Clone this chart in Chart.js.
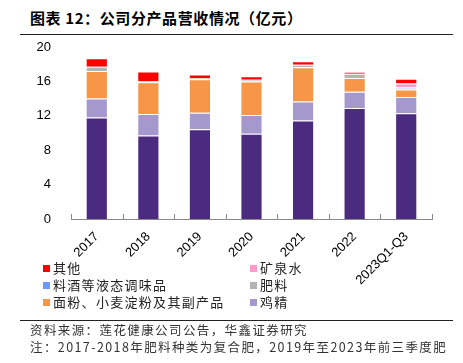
<!DOCTYPE html>
<html>
<head>
<meta charset="utf-8">
<script src="https://cdn.jsdelivr.net/npm/chart.js@4.4.0/dist/chart.umd.min.js"></script>
<style>
  body { margin: 0; background: #fff; }
  #wrap { position: relative; width: 463px; height: 363px; overflow: hidden; font-family: "Noto Sans CJK SC", sans-serif; }
  #chart { position: absolute; left: 0; top: 0; }
  .title { position: absolute; left: 30px; top: 7px; font-size: 15px; font-weight: bold; color: #000; letter-spacing: 0.6px; white-space: nowrap; }
  .rule { position: absolute; left: 20px; width: 433px; height: 1px; background: #222; }
  .note { position: absolute; left: 30px; font-size: 12.5px; color: #333; letter-spacing: 1.4px; white-space: nowrap; }
  .legend-item { position: absolute; font-size: 13px; color: #222; letter-spacing: 1.3px; white-space: nowrap; line-height: 16px; }
  .legend-item i { position: absolute; left: -10px; top: 5px; width: 7px; height: 7px; }
</style>
</head>
<body>
<div id="wrap">
  <div class="title">图表 12：公司分产品营收情况（亿元）</div>
  <div class="rule" style="top:34px"></div>
  <canvas id="chart" width="463" height="363"></canvas>
  <div id="legend"></div>
  <div class="rule" style="top:320px"></div>
  <div class="note" style="top:320px">资料来源：莲花健康公司公告，华鑫证券研究</div>
  <div class="note" style="top:337px">注：2017-2018年肥料种类为复合肥，2019年至2023年前三季度肥</div>
</div>
<script>
// Data (亿元)
const categories = ['2017', '2018', '2019', '2020', '2021', '2022', '2023Q1-Q3'];
const weijing   = [11.8, 9.7, 10.45, 9.9, 11.45, 12.9, 12.3];   // 味精
const jijing    = [2.2, 2.5, 1.9, 2.2, 2.2, 1.9, 1.9];          // 鸡精
const mianfen   = [3.2, 3.7, 3.9, 3.9, 4.0, 1.6, 0.85];         // 面粉、小麦淀粉及其副产品
const feiliao   = [0.5, 0.15, 0.15, 0.2, 0.3, 0.5, 0.12];       // 肥料
const liaojiu   = [0, 0, 0, 0, 0, 0, 0.12];                     // 料酒等液态调味品
const kuangquan = [0, 0, 0, 0, 0, 0, 0.47];                     // 矿泉水
const qita      = [1.0, 1.1, 0.4, 0.4, 0.4, 0.2, 0.55];         // 其他
const yTicks = [0, 4, 8, 12, 16, 20];

// bottom to top
const series = [
    { label: '味精', data: weijing, color: '#4B2B80', legend: false },
    { label: '鸡精', data: jijing, color: '#A598CC', legend: true },
    { label: '面粉、小麦淀粉及其副产品', data: mianfen, color: '#F79646', legend: true },
    { label: '肥料', data: feiliao, color: '#B4B4B4', legend: true },
    { label: '料酒等液态调味品', data: liaojiu, color: '#6C9BFF', legend: true },
    { label: '矿泉水', data: kuangquan, color: '#FF99CC', legend: true },
    { label: '其他', data: qita, color: '#FF0000', legend: true }
];

// small tick marks between categories, pointing up from the axis
const innerTicks = {
    id: 'innerTicks',
    afterDraw(chart) {
        const x = chart.scales.x;
        const ctx = chart.ctx;
        ctx.save();
        ctx.strokeStyle = '#888';
        ctx.lineWidth = 1;
        for (let i = 0; i <= categories.length; i++) {
            const px = Math.round(x.getPixelForValue(i - 0.5)) + 0.5;
            ctx.beginPath();
            ctx.moveTo(px, x.top);
            ctx.lineTo(px, x.top - 5);
            ctx.stroke();
        }
        ctx.restore();
    }
};

const chart = new Chart(document.getElementById('chart'), {
    type: 'bar',
    data: {
        labels: categories,
        datasets: series.map(s => ({
            label: s.label,
            data: s.data,
            backgroundColor: s.color,
            borderColor: 'rgba(255,255,255,0.35)',
            borderWidth: 1,
            barPercentage: 0.43,
            categoryPercentage: 1
        }))
    },
    options: {
        responsive: false,
        animation: false,
        layout: { padding: { top: 47, right: 31, left: 0, bottom: 0 } },
        plugins: { legend: { display: false }, tooltip: { enabled: false } },
        scales: {
            x: {
                stacked: true,
                grid: { display: false },
                border: { display: true, color: '#888', width: 1 },
                ticks: {
                    color: '#000',
                    font: { family: 'Liberation Sans, Arial', size: 13 },
                    minRotation: 45, maxRotation: 45,
                    padding: 2
                },
                afterFit(scale) { scale.height = 144; }
            },
            y: {
                stacked: true,
                min: 0, max: 20,
                afterBuildTicks(scale) { scale.ticks = yTicks.map(v => ({ value: v })); },
                grid: { display: false },
                border: { display: false },
                ticks: {
                    color: '#000',
                    font: { family: 'Liberation Sans, Arial', size: 13 },
                    padding: 12
                },
                afterFit(scale) { scale.width = 71; }
            }
        }
    },
    plugins: [innerTicks]
});

// legend: reversed stack order, two columns
const legendBox = document.getElementById('legend');
const legendItems = series.filter(s => s.legend).reverse();
legendItems.forEach((s, i) => {
    const col = i % 2, row = Math.floor(i / 2);
    const el = document.createElement('div');
    el.className = 'legend-item';
    el.style.left = (col ? 260 : 53) + 'px';
    el.style.top = (260 + row * 17) + 'px';
    el.innerHTML = `<i style="background:${s.color}"></i>${s.label}`;
    legendBox.appendChild(el);
});
</script>
</body>
</html>
